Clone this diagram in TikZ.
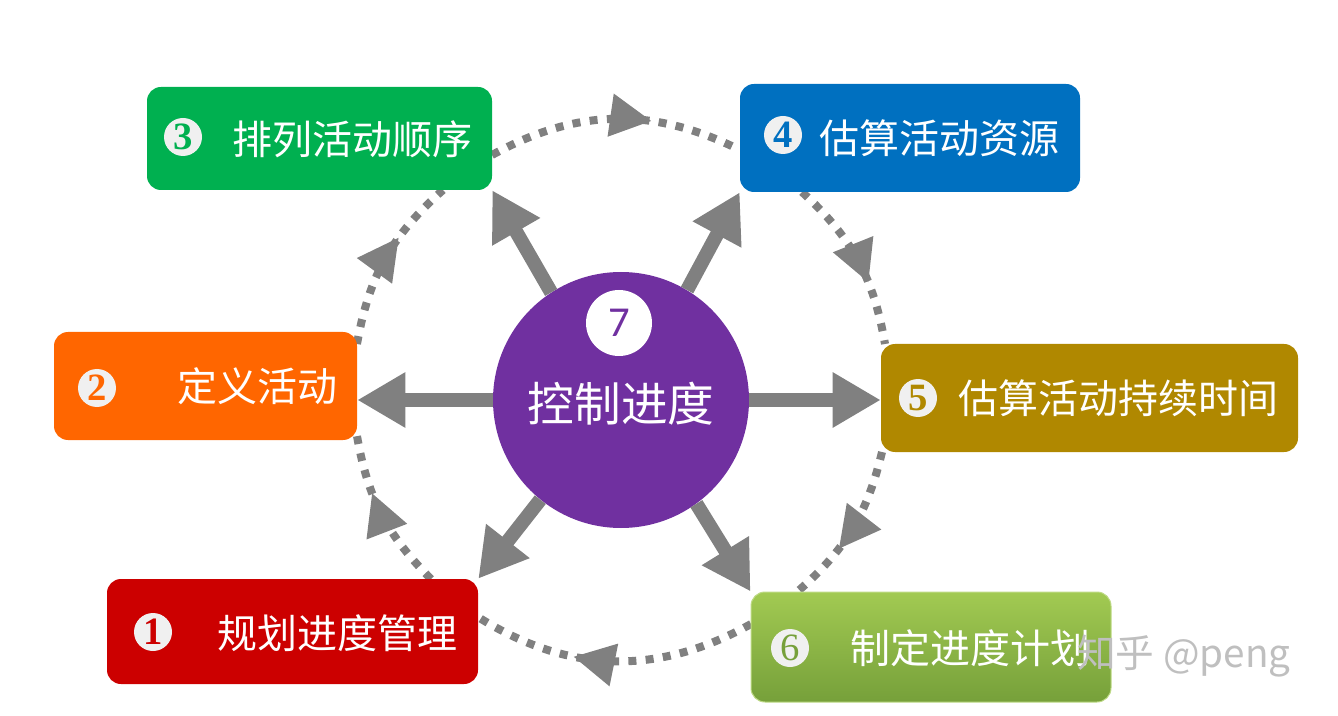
\documentclass[tikz,border=0pt]{standalone}
\usepackage{fontspec}
\setmainfont{Noto Sans CJK SC}
\newfontfamily\numfont{Liberation Serif}
\newfontfamily\sevenfont{Carlito}
\usetikzlibrary{arrows.meta,decorations.markings}

\definecolor{redbox}{RGB}{204,0,0}
\definecolor{orangebox}{RGB}{255,102,0}
\definecolor{greenbox}{RGB}{0,176,80}
\definecolor{bluebox}{RGB}{0,112,192}
\definecolor{olivebox}{RGB}{176,136,0}
\definecolor{limetop}{RGB}{162,202,82}
\definecolor{limebot}{RGB}{118,160,58}
\definecolor{purplebox}{RGB}{112,48,160}
\definecolor{arrowgray}{RGB}{128,128,128}

\tikzset{
  box/.style={rounded corners=10.5pt, inner sep=0pt},
  boxtext/.style={anchor=west, inner sep=0.75pt, text=white, font=\fontsize{30}{36}\selectfont},
  numdot/.style={circle, fill=white!94!black, inner sep=0pt, minimum size=28.5pt,
    font=\numfont\bfseries\fontsize{29}{29}\selectfont},
  bigarrow/.style={draw=arrowgray, line width=10.5pt, -{Triangle[length=36pt,width=39pt]}},
  dotarc/.style={draw=arrowgray, line width=6pt, dash pattern=on 6pt off 7pt,
    postaction={decorate},
    decoration={markings, mark=at position 0.64 with {\arrow{Triangle[length=31pt,width=31pt]}}}}
}

\begin{document}
\begin{tikzpicture}[x=0.75pt,y=0.75pt,yscale=-1,xscale=1]
\useasboundingbox (0,0) rectangle (1338,716);

% Dotted ring
\coordinate (s12) at (431,579);
\coordinate (e12) at (357,436);
\coordinate (s23) at (357,344);
\coordinate (e23) at (443,190);
\coordinate (s34) at (492,155);
\coordinate (e34) at (740,150);
\coordinate (s45) at (802,192);
\coordinate (e45) at (885,344);
\coordinate (s56) at (882,452);
\coordinate (e56) at (797,592);
\coordinate (s61) at (751,624);
\coordinate (e61) at (478,617);
\draw [dotarc] (s12) to [bend right=17.5] (e12);
\draw [dotarc] (s23) to [bend right=19.2] (e23);
\draw [dotarc] (s34) to [bend right=27.6] (e34);
\draw [dotarc] (s45) to [bend right=18.9] (e45);
\draw [dotarc] (s56) to [bend right=17.8] (e56);
\draw [dotarc] (s61) to [bend right=30.6] (e61);

% Box 1
\node [box, fill=redbox, minimum width=278.25pt, minimum height=78.75pt] (b1) at (292.5,631.5) {};
\node [numdot, text=redbox] (n1) at (153,632) {1};
\node [boxtext] (t1) at (216,633) {规划进度管理};
% Box 2
\node [box, fill=orangebox, minimum width=227.25pt, minimum height=81pt] (b2) at (205.5,386) {};
\node [numdot, text=orangebox] (n2) at (97,388) {2};
\node [boxtext] (t2) at (176,386) {定义活动};
% Box 3
\node [box, fill=greenbox, minimum width=258.75pt, minimum height=77.25pt] (b3) at (319.5,138.5) {};
\node [numdot, text=greenbox] (n3) at (183,137) {3};
\node [boxtext] (t3) at (231,139) {排列活动顺序};
% Box 4
\node [box, fill=bluebox, minimum width=255pt, minimum height=81pt] (b4) at (910,138) {};
\node [numdot, text=bluebox] (n4) at (783,135) {4};
\node [boxtext] (t4) at (818,138) {估算活动资源};
% Box 5
\node [box, fill=olivebox, minimum width=312.75pt, minimum height=81pt] (b5) at (1089.5,398) {};
\node [numdot, text=olivebox] (n5) at (918,398) {5};
\node [boxtext] (t5) at (957,398) {估算活动持续时间};
% Box 6
\node [box, draw=limetop!70!white, line width=0.75pt, top color=limetop, bottom color=limebot,
  minimum width=270pt, minimum height=82.5pt] (b6) at (931,647) {};
\node [numdot, text=limebot, font=\numfont\fontsize{29}{29}\selectfont] (n6) at (790,648) {6};
\node [boxtext] (t6) at (849,648) {制定进度计划};

% Centre
\node [circle, fill=purplebox, inner sep=0pt, minimum size=192pt] (pc) at (621,400) {};
\node [circle, fill=white, inner sep=0pt, minimum size=49.5pt,
  font=\sevenfont\fontsize{32}{32}\selectfont, text=purplebox] (n7) at (619,323) {7};
\node [inner sep=0.75pt, text=white, font=\fontsize{35}{40}\selectfont] (t7) at (621,404) {控制进度};

% Spokes
\draw [bigarrow] (pc.west) -- (pc.west -| b2.east);
\draw [bigarrow] (pc.east) -- (pc.east -| b5.west);
\draw [bigarrow] (pc.123.3) -- (b3.south east);
\draw [bigarrow] (pc.59) -- (b4.south west);
\draw [bigarrow] (pc.231.1) -- (b1.north east);
\draw [bigarrow] (pc.-54.6) -- (b6.north west);

% Watermark
\node [anchor=west, inner sep=0.75pt, text=black!25, font=\fontsize{29}{34}\selectfont] (wm) at (1076,656) {知乎 @peng};

\end{tikzpicture}
\end{document}
